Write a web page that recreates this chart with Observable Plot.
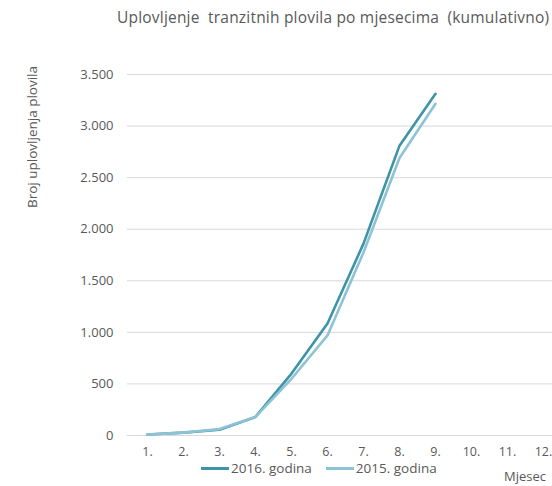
<!DOCTYPE html>
<html><head><meta charset="utf-8">
<script src="https://cdn.jsdelivr.net/npm/d3@7"></script>
<script src="https://cdn.jsdelivr.net/npm/@observablehq/plot@0.6"></script>
<style>
body{margin:0;background:#fff;overflow:hidden}
#wrap{position:relative;width:552px;height:486px;font-family:"Open Sans",sans-serif;color:#595959}
.t{position:absolute;white-space:nowrap;line-height:1.2}
</style></head><body>
<div id="wrap"></div>
<script>
const months = [1,2,3,4,5,6,7,8,9,10,11,12];
const series = ["2016. godina","2015. godina"];
const v2016 = [10,28,55,180,600,1085,1860,2810,3313];
const v2015 = [10,28,62,180,550,970,1775,2690,3216];
const yTicks = [0,500,1000,1500,2000,2500,3000,3500];
const colors = ["#3e94a7","#8dc3d5"];

const rows = [];
v2016.forEach((v,i)=>rows.push({m:months[i],v,s:series[0]}));
v2015.forEach((v,i)=>rows.push({m:months[i],v,s:series[1]}));
const fmt = d3.formatLocale({thousands:".",grouping:[3],decimal:","}).format(",");

const chart = Plot.plot({
  width:552, height:486,
  marginLeft:127, marginRight:0, marginTop:74, marginBottom:51,
  style:{fontFamily:"Open Sans, sans-serif", fontSize:"12px", color:"#595959", background:"transparent"},
  x:{type:"point", domain:months, range:[128,561], padding:0.5},
  y:{domain:[0,3500], ticks:yTicks},
  color:{domain:series, range:colors},
  marks:[
    Plot.ruleY(yTicks,{stroke:"#d9d9d9", strokeWidth:1}),
    Plot.axisY({ticks:yTicks, tickSize:0, tickPadding:14, tickFormat:fmt, label:null, fill:"#595959", fontSize:13}),
    Plot.axisX({tickSize:0, tickPadding:12, tickFormat:d=>d+".", label:null, fill:"#595959", fontSize:12.5}),
    Plot.line(rows,{x:"m", y:"v", z:"s", stroke:"s", strokeWidth:2.6, strokeLinejoin:"miter"})
  ]
});
const wrap = document.getElementById("wrap");
wrap.appendChild(chart);
chart.style.position="absolute"; chart.style.left="0"; chart.style.top="0";

function addText(txt, css){const d=document.createElement("div");d.className="t";d.textContent=txt;Object.assign(d.style,css);wrap.appendChild(d);return d;}
addText("Uplovljenje  tranzitnih plovila po mjesecima  (kumulativno)",{left:"117px",top:"8px",fontSize:"15.5px",letterSpacing:"0.2px",whiteSpace:"pre"});
addText("Broj uplovljenja plovila",{left:"32px",top:"137px",fontSize:"13.5px",transform:"translate(-50%,-50%) rotate(-90deg)"});
addText("Mjesec",{left:"504px",top:"469px",fontSize:"13px"});
// legend
const leg = document.createElement("div");
leg.className="t";
Object.assign(leg.style,{left:"201px",top:"460px",fontSize:"13.5px",display:"flex",alignItems:"center"});
series.forEach((s,i)=>{
  const sw=document.createElement("span");
  Object.assign(sw.style,{display:"inline-block",width:"28px",height:"3px",background:colors[i],marginRight:"2px",marginLeft:i?"14px":"0"});
  const lb=document.createElement("span");lb.textContent=s;
  leg.appendChild(sw);leg.appendChild(lb);
});
wrap.appendChild(leg);
</script>
</body></html>
